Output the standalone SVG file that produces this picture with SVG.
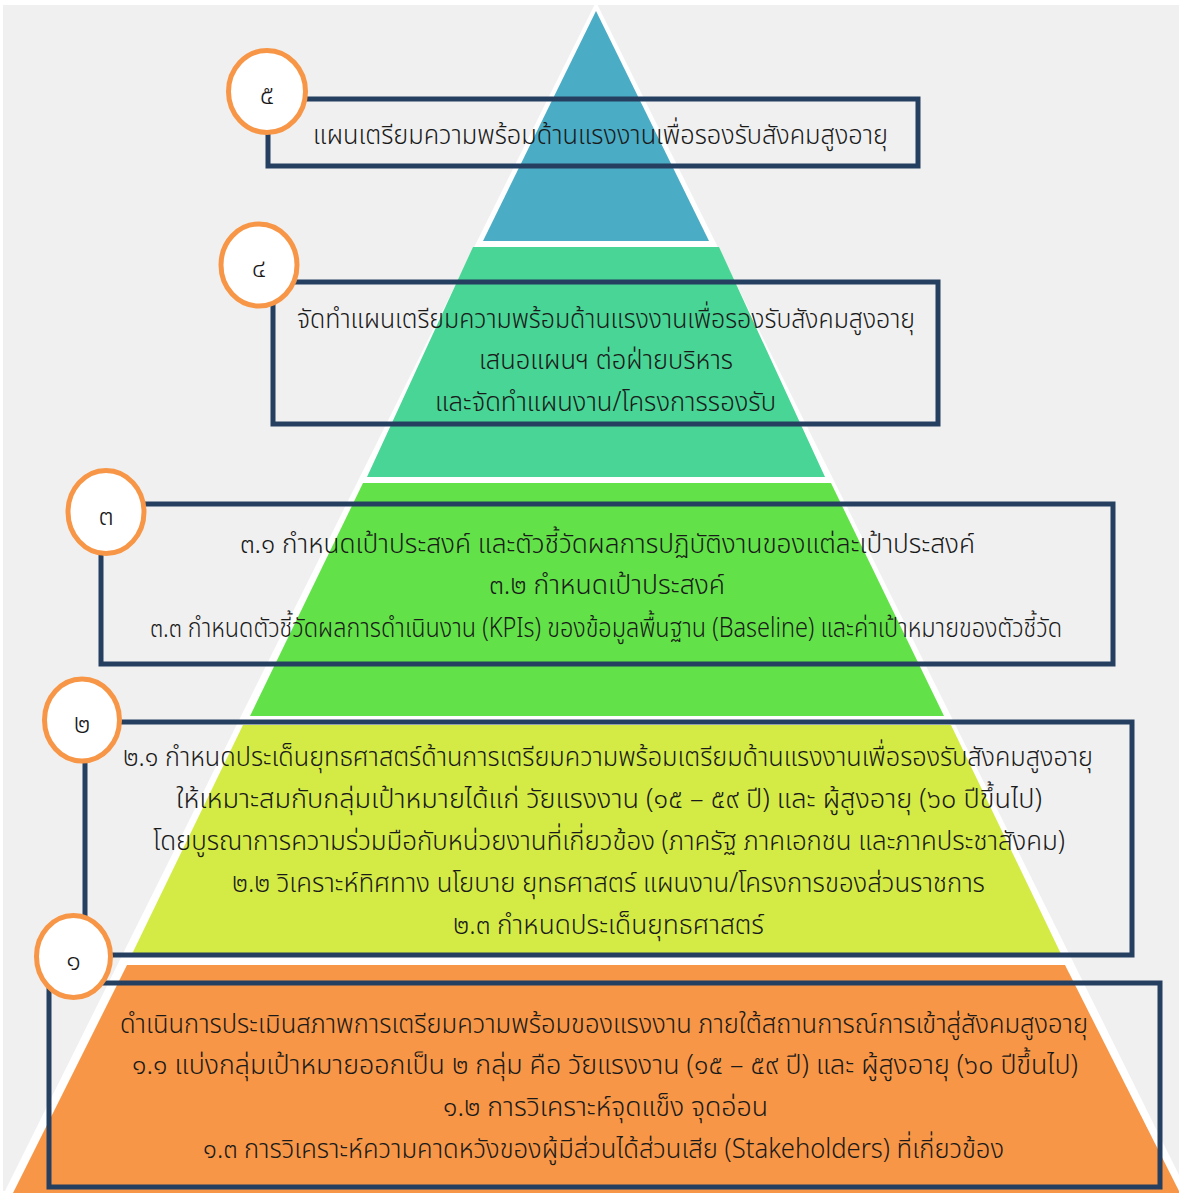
<svg xmlns="http://www.w3.org/2000/svg" width="1179" height="1193" viewBox="0 0 1179 1193">
<style>
.box{fill:none;stroke:#243F60;stroke-width:5}
.badge{fill:#FFFFFF;stroke:#F79646;stroke-width:5}
.t{font-family:"Noto Sans Thai","Leelawadee UI",Tahoma,"Noto Sans",sans-serif;font-size:27px;font-weight:300;fill:#1a1a1a;text-anchor:middle}
.d{font-family:"Noto Sans Thai","Leelawadee UI",Tahoma,"Noto Sans",sans-serif;font-size:27px;font-weight:300;fill:#1a1a1a;text-anchor:middle}
</style>
<rect x="0" y="0" width="1179" height="1193" fill="#FFFFFF"/>
<rect x="3" y="5" width="1176" height="1186" fill="#F0F0F0"/>
<g id="pyramid">
<polygon points="596,2 1188,1193 4,1193" fill="#FFFFFF"/>
<polygon points="596,11 709,241 483,241" fill="#4BACC6"/>
<polygon points="473,247 719,247 825,477 367,477" fill="#48D595"/>
<polygon points="363,483 831,483 944,716 250,716" fill="#62E248"/>
<polygon points="243,725 951,725 1061,954 132,954" fill="#D4EB45"/>
<polygon points="127,965 1065,965 1180,1193 13,1193" fill="#F79646"/>
</g>
<g id="connectors"></g>
<g id="node5">
<rect class="box" x="268" y="99" width="650" height="67"/>
<ellipse class="badge" cx="267" cy="91.5" rx="38.5" ry="41"/>
<text class="d" x="267" y="104">๕</text>
<text class="t" x="600.5" y="144" textLength="575" lengthAdjust="spacingAndGlyphs">แผนเตรียมความพร้อมด้านแรงงานเพื่อรองรับสังคมสูงอายุ</text>
</g>
<g id="node4">
<rect class="box" x="273" y="282" width="665" height="142"/>
<ellipse class="badge" cx="259" cy="265" rx="38" ry="41"/>
<text class="d" x="259" y="277">๔</text>
<text class="t" x="606" y="328" textLength="618" lengthAdjust="spacingAndGlyphs">จัดทำแผนเตรียมความพร้อมด้านแรงงานเพื่อรองรับสังคมสูงอายุ</text>
<text class="t" x="606" y="369" textLength="254" lengthAdjust="spacingAndGlyphs">เสนอแผนฯ ต่อฝ่ายบริหาร</text>
<text class="t" x="605.5" y="411" textLength="341" lengthAdjust="spacingAndGlyphs">และจัดทำแผนงาน/โครงการรองรับ</text>
</g>
<g id="node3">
<rect class="box" x="101" y="504" width="1012" height="160"/>
<ellipse class="badge" cx="106" cy="512" rx="38" ry="41.5"/>
<text class="d" x="106" y="525">๓</text>
<text class="t" x="607.5" y="553" textLength="735" lengthAdjust="spacingAndGlyphs">๓.๑ กำหนดเป้าประสงค์ และตัวชี้วัดผลการปฏิบัติงานของแต่ละเป้าประสงค์</text>
<text class="t" x="607" y="594" textLength="236" lengthAdjust="spacingAndGlyphs">๓.๒ กำหนดเป้าประสงค์</text>
<text class="t" x="606" y="637" textLength="912" lengthAdjust="spacingAndGlyphs">๓.๓ กำหนดตัวชี้วัดผลการดำเนินงาน (KPIs) ของข้อมูลพื้นฐาน (Baseline) และค่าเป้าหมายของตัวชี้วัด</text>
</g>
<g id="node2">
<rect class="box" x="85" y="722" width="1047" height="233"/>
<ellipse class="badge" cx="82" cy="720" rx="37.5" ry="41"/>
<text class="d" x="82" y="733">๒</text>
<text class="t" x="608" y="766" textLength="970" lengthAdjust="spacingAndGlyphs">๒.๑ กำหนดประเด็นยุทธศาสตร์ด้านการเตรียมความพร้อมเตรียมด้านแรงงานเพื่อรองรับสังคมสูงอายุ</text>
<text class="t" x="609" y="808" textLength="866" lengthAdjust="spacingAndGlyphs">ให้เหมาะสมกับกลุ่มเป้าหมายได้แก่ วัยแรงงาน (๑๕ – ๕๙ ปี) และ ผู้สูงอายุ (๖๐ ปีขึ้นไป)</text>
<text class="t" x="609" y="850" textLength="912" lengthAdjust="spacingAndGlyphs">โดยบูรณาการความร่วมมือกับหน่วยงานที่เกี่ยวข้อง (ภาครัฐ ภาคเอกชน และภาคประชาสังคม)</text>
<text class="t" x="608.5" y="892" textLength="753" lengthAdjust="spacingAndGlyphs">๒.๒ วิเคราะห์ทิศทาง นโยบาย ยุทธศาสตร์ แผนงาน/โครงการของส่วนราชการ</text>
<text class="t" x="608.5" y="934" textLength="311" lengthAdjust="spacingAndGlyphs">๒.๓ กำหนดประเด็นยุทธศาสตร์</text>
</g>
<g id="node1">
<rect class="box" x="49" y="983" width="1111" height="204"/>
<ellipse class="badge" cx="73.5" cy="956.5" rx="37" ry="41"/>
<text class="d" x="73.5" y="970">๑</text>
<text class="t" x="604" y="1033" textLength="968" lengthAdjust="spacingAndGlyphs">ดำเนินการประเมินสภาพการเตรียมความพร้อมของแรงงาน ภายใต้สถานการณ์การเข้าสู่สังคมสูงอายุ</text>
<text class="t" x="605" y="1074" textLength="946" lengthAdjust="spacingAndGlyphs">๑.๑ แบ่งกลุ่มเป้าหมายออกเป็น ๒ กลุ่ม คือ วัยแรงงาน (๑๕ – ๕๙ ปี) และ ผู้สูงอายุ (๖๐ ปีขึ้นไป)</text>
<text class="t" x="605.5" y="1116" textLength="325" lengthAdjust="spacingAndGlyphs">๑.๒ การวิเคราะห์จุดแข็ง จุดอ่อน</text>
<text class="t" x="603.5" y="1158" textLength="801" lengthAdjust="spacingAndGlyphs">๑.๓ การวิเคราะห์ความคาดหวังของผู้มีส่วนได้ส่วนเสีย (Stakeholders) ที่เกี่ยวข้อง</text>
</g>
</svg>
